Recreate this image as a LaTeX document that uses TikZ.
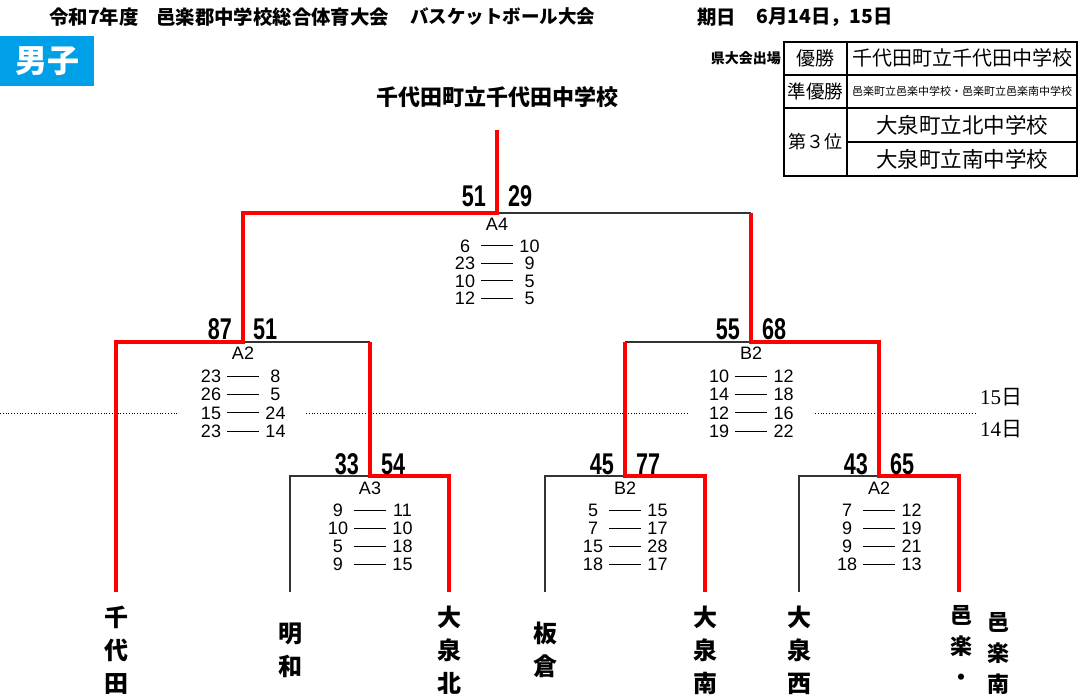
\documentclass[tikz,border=0pt]{standalone}
\usepackage{fontspec}
\setmainfont{Liberation Sans}
\newfontfamily\jp{Noto Sans CJK JP}
\newfontfamily\numf[FakeStretch=0.72]{Liberation Sans}
\newfontfamily\serf{Liberation Serif}
\definecolor{brRed}{RGB}{255,0,0}
\definecolor{brLine}{RGB}{51,51,51}
\definecolor{tagBlue}{RGB}{0,160,233}
\tikzset{
  redp/.style={draw=brRed, line width=3.2pt, line join=miter},
  blkp/.style={draw=brLine, line width=1.3pt},
  dashl/.style={draw=black, line width=1pt},
  dotl/.style={draw=black, line width=0.8pt, dotted},
  score/.style={inner sep=0pt, font=\numf\bfseries\fontsize{30}{30}\selectfont},
  lbl/.style={inner sep=0pt, font=\fontsize{18}{18}\selectfont},
  rowt/.style={inner sep=0pt, font=\fontsize{18}{18}\selectfont},
  team/.style={inner sep=0pt, align=center, font=\jp\bfseries\fontsize{24}{33}\selectfont},
  teamsm/.style={inner sep=0pt, align=center, font=\jp\bfseries\fontsize{22}{31}\selectfont},
  tbl/.style={draw=black, line width=1.2pt},
  tcell/.style={inner sep=0pt, font=\jp\fontsize{19}{19}\selectfont},
  head/.style={inner sep=0pt, anchor=west, font=\jp\bfseries\fontsize{19.4}{19.4}\selectfont},
}
% name, cx, label y, label, rows, first-row offset, row spacing
\newcommand\mblock[7]{%
  \node[lbl] (#1) at (#2,#3) {#4};
  \foreach \a/\b [count=\i] in {#5} {
    \pgfmathsetmacro\yy{#3+#6+#7*(\i-1)}
    \node[rowt] (#1-l\i) at (#2-32,\yy) {\a};
    \node[rowt] (#1-r\i) at (#2+32.5,\yy) {\b};
    \coordinate (#1-da\i) at (#2-16,\yy);
    \coordinate (#1-db\i) at (#2+16,\yy);
    \draw[dashl] (#1-da\i) -- (#1-db\i);
  }%
}
\begin{document}
\begin{tikzpicture}[x=1pt,y=-1pt]
\useasboundingbox (0,0) rectangle (1078,700);
\fill[white] (0,0) rectangle (1078,700);

% header
\node[head] (h1) at (49,17) {令和7年度};
\node[head] (h2) at (156,17) {邑楽郡中学校総合体育大会};
\node[head, font=\jp\bfseries\fontsize{18.5}{18.5}\selectfont] (h3) at (410,17) {バスケットボール大会};
\node[head] (h4) at (697,17) {期日};
\node[head] (h5) at (756,17) {6月14日，15日};

% tag
\node[fill=tagBlue, minimum width=94pt, minimum height=50pt, inner sep=0pt, anchor=north west,
      text=white, font=\jp\bfseries\fontsize{32}{32}\selectfont] (tag) at (0,36) {男子};

% table
\node[inner sep=0pt, anchor=east, font=\jp\bfseries\fontsize{14}{14}\selectfont] (ken) at (781,58) {県大会出場};
\coordinate (tA) at (784,42);
\coordinate (tB) at (1077,176);
\coordinate (tC1) at (847,42);
\coordinate (tC2) at (847,176);
\coordinate (tR1a) at (784,75);
\coordinate (tR1b) at (1077,75);
\coordinate (tR2a) at (784,108);
\coordinate (tR2b) at (1077,108);
\coordinate (tR3a) at (847,142);
\coordinate (tR3b) at (1077,142);
\draw[tbl] (tA) rectangle (tB);
\draw[tbl] (tC1) -- (tC2);
\draw[tbl] (tR1a) -- (tR1b);
\draw[tbl] (tR2a) -- (tR2b);
\draw[tbl] (tR3a) -- (tR3b);
\node[tcell] (c11) at (815.5,58) {優勝};
\node[tcell, font=\jp\fontsize{20}{20}\selectfont] (c12) at (962,58) {千代田町立千代田中学校};
\node[tcell, font=\jp\fontsize{18.5}{18.5}\selectfont] (c21) at (815.5,91) {準優勝};
\node[tcell, font=\jp\fontsize{11}{11}\selectfont] (c22) at (962,91) {邑楽町立邑楽中学校・邑楽町立邑楽南中学校};
\node[tcell, font=\jp\fontsize{18}{18}\selectfont] (c31) at (815.5,142) {第３位};
\node[tcell, font=\jp\fontsize{21.5}{21.5}\selectfont] (c32) at (962,125) {大泉町立北中学校};
\node[tcell, font=\jp\fontsize{21.5}{21.5}\selectfont] (c42) at (962,159) {大泉町立南中学校};

% champion
\node[inner sep=0pt, font=\jp\bfseries\fontsize{22}{22}\selectfont] (champ) at (497,97) {千代田町立千代田中学校};

% day separator
\coordinate (dl0) at (0,413);
\coordinate (dl1) at (178,413);
\coordinate (dl2) at (306,413);
\coordinate (dl3) at (688,413);
\coordinate (dl4) at (815,413);
\coordinate (dl5) at (977,413);
\draw[dotl] (dl0) -- (dl1);
\draw[dotl] (dl2) -- (dl3);
\draw[dotl] (dl4) -- (dl5);
\node[inner sep=0pt, font=\fontsize{21}{21}\selectfont] (d15) at (1001,397) {{\serf 15}{\jp 日}};
\node[inner sep=0pt, font=\fontsize{21}{21}\selectfont] (d14) at (1001,429) {{\serf 14}{\jp 日}};

% bracket coordinates
\coordinate (t1) at (116,592);
\coordinate (t2) at (290,592);
\coordinate (t3) at (449,592);
\coordinate (t4) at (545,592);
\coordinate (t5) at (705,592);
\coordinate (t6) at (799,592);
\coordinate (t7) at (959,592);
\coordinate (r1a) at (370,476);
\coordinate (r1b) at (625,476);
\coordinate (r1c) at (879,476);
\coordinate (r2a) at (243,342);
\coordinate (r2b) at (751,342);
\coordinate (fin) at (497,213);
\coordinate (ch) at (497,130);

% losing (black) lines
\draw[blkp] (t2) |- (r1a);
\draw[blkp] (t4) |- (r1b);
\draw[blkp] (t6) |- (r1c);
\draw[blkp] (r2a) -- (r2a -| r1a);
\draw[blkp] (r2b -| r1b) -- (r2b);
\draw[blkp] (fin) -- (fin -| r2b);

% winning (red) lines
\draw[redp] (t3) |- (r1a) -- (r1a |- r2a);
\draw[redp] (t5) |- (r1b) -- (r1b |- r2b);
\draw[redp] (t7) |- (r1c) -- (r1c |- r2b) -- (r2b) -- (r2b |- fin);
\draw[redp] (t1) |- (r2a) -- (r2a |- fin) -- (fin) -- (ch);

% scores
\node[score, anchor=base east] (sF1) at (486,207) {51};
\node[score, anchor=base west] (sF2) at (508,207) {29};
\node[score, anchor=base east] (sL1) at (232,339) {87};
\node[score, anchor=base west] (sL2) at (253,339) {51};
\node[score, anchor=base east] (sR1) at (740,339) {55};
\node[score, anchor=base west] (sR2) at (762,339) {68};
\node[score, anchor=base east] (sa1) at (359,474) {33};
\node[score, anchor=base west] (sa2) at (381,474) {54};
\node[score, anchor=base east] (sb1) at (614,474) {45};
\node[score, anchor=base west] (sb2) at (636,474) {77};
\node[score, anchor=base east] (sc1) at (868,474) {43};
\node[score, anchor=base west] (sc2) at (890,474) {65};

% period scores
\mblock{mA4}{497}{224}{A4}{6/10,23/9,10/5,12/5}{22}{17.5}
\mblock{mA2L}{243}{353}{A2}{23/8,26/5,15/24,23/14}{23.5}{18.2}
\mblock{mB2R}{751}{353}{B2}{10/12,14/18,12/16,19/22}{23.5}{18.2}
\mblock{mA3}{370}{488}{A3}{9/11,10/10,5/18,9/15}{22}{18.2}
\mblock{mB2}{625}{488}{B2}{5/15,7/17,15/28,18/17}{22}{18.2}
\mblock{mA2}{879}{488}{A2}{7/12,9/19,9/21,18/13}{22}{18.2}

% teams
\node[team] (n1) at (116,650) {千\\代\\田};
\node[team] (n2) at (290,650) {明\\和};
\node[team] (n3) at (449,650) {大\\泉\\北};
\node[team] (n4) at (545,650) {板\\倉};
\node[team] (n5) at (705,650) {大\\泉\\南};
\node[team] (n6) at (799,650) {大\\泉\\西};
\node[teamsm] (n7a) at (961,645) {邑\\楽\\・};
\node[teamsm] (n7b) at (998,653) {邑\\楽\\南};
\end{tikzpicture}
\end{document}
